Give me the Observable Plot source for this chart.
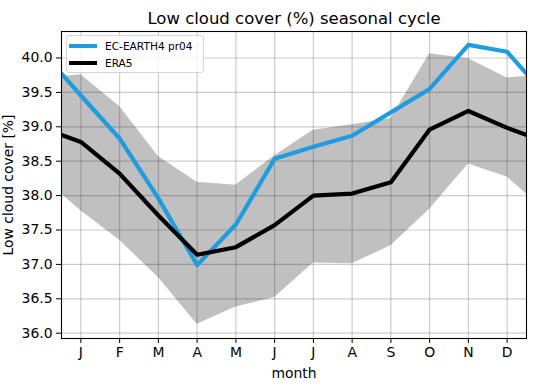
<!DOCTYPE html>
<html>
<head>
<meta charset="utf-8">
<script src="https://cdn.jsdelivr.net/npm/d3@7"></script>
<script src="https://cdn.jsdelivr.net/npm/@observablehq/plot@0.6"></script>
<style>
  body { margin: 0; background: #fff; }
  #wrap { position: relative; width: 535px; height: 391px; font-family: "DejaVu Sans", sans-serif; }
  #legend { position: absolute; left: 66px; top: 35px; width: 136px; height: 36px;
    border: 1px solid #d6d6d6; border-radius: 3px; background: rgba(255,255,255,0.8);
    font-size: 10.6px; color: #000; }
  .item { position: absolute; left: 2px; height: 14px; display: flex; align-items: center; }
  .sw { width: 28px; height: 4px; margin-right: 8px; }
</style>
</head>
<body>
<div id="wrap"></div>
<script>
const months = ["J","F","M","A","M","J","J","A","S","O","N","D"];
const ecEarth = [39.455, 38.83, 37.96, 36.99, 37.58, 38.535, 38.71, 38.87, 39.21, 39.55, 40.19, 40.09];
const era5    = [38.78, 38.32, 37.71, 37.14, 37.25, 37.57, 38.0, 38.03, 38.195, 38.96, 39.23, 38.985];
const upper   = [39.755, 39.295, 38.57, 38.195, 38.15, 38.58, 38.95, 39.03, 39.12, 40.06, 39.99, 39.71];
const lower   = [37.78, 37.35, 36.81, 36.13, 36.38, 36.52, 37.02, 37.01, 37.27, 37.80, 38.46, 38.27];
const yTicks  = [36.0, 36.5, 37.0, 37.5, 38.0, 38.5, 39.0, 39.5, 40.0];
const seriesNames = ["EC-EARTH4 pr04", "ERA5"];
const colors = ["#1f9ce0", "#000000"];
const title = "Low cloud cover (%) seasonal cycle";

// periodic table: Dec repeated before Jan, Jan repeated after Dec
const idx = [11, ...d3.range(12), 0];
const table = idx.map((i, k) => ({m: k, ec: ecEarth[i], era: era5[i], hi: upper[i], lo: lower[i]}));
const xTicks = d3.range(1, 13);

const chart = Plot.plot({
  width: 535, height: 391,
  marginLeft: 61, marginRight: 9, marginTop: 31, marginBottom: 53,
  style: {fontFamily: "DejaVu Sans", fontSize: "13.9px", color: "#000", background: "#fff"},
  x: {domain: [0.5, 12.5], ticks: xTicks, tickFormat: d => months[d - 1], tickSize: 5, tickPadding: 4,
      label: "month", labelAnchor: "center", labelArrow: "none", labelOffset: 39},
  y: {domain: [35.923, 40.385], ticks: yTicks, tickFormat: d3.format(".1f"), tickSize: 5, tickPadding: 4,
      label: "Low cloud cover [%]", labelAnchor: "center", labelArrow: "none", labelOffset: 58},
  marks: [
    Plot.areaY(table, {x: "m", y1: "lo", y2: "hi", fill: "#c0c0c0", clip: true}),
    Plot.ruleX(xTicks, {stroke: "#000", strokeOpacity: 0.2, strokeWidth: 1.2}),
    Plot.ruleY(yTicks, {stroke: "#000", strokeOpacity: 0.2, strokeWidth: 1.2}),
    Plot.line(table, {x: "m", y: "ec", stroke: colors[0], strokeWidth: 4.2, clip: true}),
    Plot.line(table, {x: "m", y: "era", stroke: colors[1], strokeWidth: 4.2, clip: true}),
    Plot.frame({stroke: "#000", strokeWidth: 1.1}),
    Plot.text([title], {text: d => d, frameAnchor: "top", lineAnchor: "bottom", dy: -8, fontSize: 16.5})
  ]
});
const wrap = document.getElementById("wrap");
wrap.appendChild(chart);

const legend = document.createElement("div");
legend.id = "legend";
seriesNames.forEach((name, i) => {
  const it = document.createElement("div");
  it.className = "item";
  it.style.top = (3 + i * 16.6) + "px";
  const sw = document.createElement("div");
  sw.className = "sw";
  sw.style.background = colors[i];
  const tx = document.createElement("span");
  tx.textContent = name;
  it.appendChild(sw); it.appendChild(tx);
  legend.appendChild(it);
});
wrap.appendChild(legend);
</script>
</body>
</html>
